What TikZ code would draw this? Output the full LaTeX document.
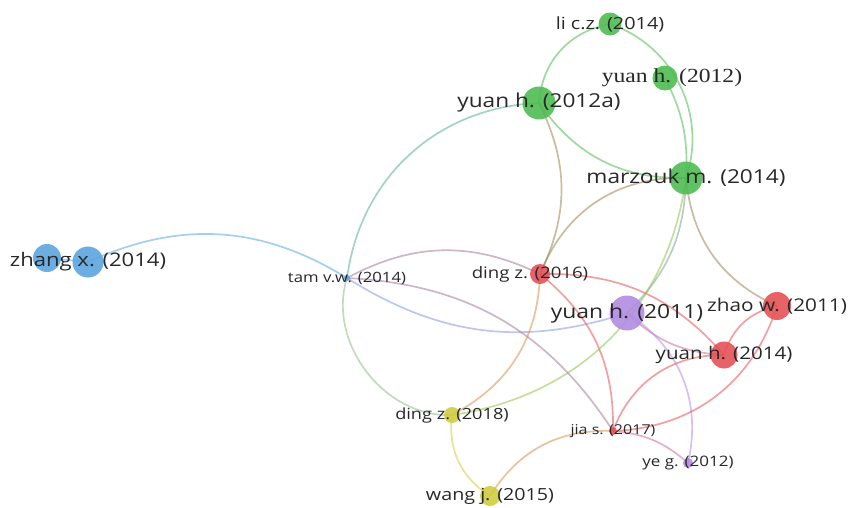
\documentclass[tikz,border=0pt]{standalone}
\usepackage{fontspec}
\setmainfont{Open Sans}
\newfontfamily\serifname{Liberation Serif}
\usepackage{graphicx}
\definecolor{vgreen}{RGB}{78,188,82}
\definecolor{vblue}{RGB}{92,165,222}
\definecolor{vred}{RGB}{230,82,86}
\definecolor{vpurple}{RGB}{178,140,226}
\definecolor{vyellow}{RGB}{208,204,64}
\definecolor{labelgray}{RGB}{40,40,40}
\pgfdeclarelayer{edges}
\pgfsetlayers{edges,main}
\newcommand{\wide}[1]{\scalebox{1.18}[1]{#1}}

\begin{document}
\begin{tikzpicture}[x=1pt, y=-1pt]
    \tikzset{item/.style = {circle, inner sep=0pt, fill=#1, opacity=.9}}
    \tikzset{lbl/.style = {text=labelgray, inner sep=0pt, font=\fontsize{#1}{#1}\selectfont}}
    \tikzset{link/.style = {#1, line width=1.7pt, opacity=.55}}
    \useasboundingbox (0,0) rectangle (852,507);
    % publications
    \node[item=vblue, minimum size=28] (zhang14a) at (47,258) {};
    \node[item=vblue, minimum size=31] (zhang14) at (88,262) {};
    \node[item=vblue, minimum size=6] (tam14) at (347,278) {};
    \node[item=vgreen, minimum size=33] (yuan12a) at (539,103) {};
    \node[item=vgreen, minimum size=23] (li14) at (610,24) {};
    \node[item=vgreen, minimum size=25] (yuan12) at (665,78) {};
    \node[item=vgreen, minimum size=33] (marzouk14) at (686,178) {};
    \node[item=vred, minimum size=20] (ding16) at (540,274) {};
    \node[item=vpurple, minimum size=35] (yuan11) at (627,313) {};
    \node[item=vred, minimum size=28] (zhao11) at (777,306) {};
    \node[item=vred, minimum size=27] (yuan14) at (724,355) {};
    \node[item=vyellow, minimum size=16] (ding18) at (452,415) {};
    \node[item=vred, minimum size=8] (jia17) at (613,431) {};
    \node[item=vpurple, minimum size=10] (ye12) at (688,463) {};
    \node[item=vyellow, minimum size=20] (wang15) at (490,496) {};
    % labels
    \node[lbl=18.7] (zhang14-l) at (zhang14) {\wide{zhang x. (2014)}};
    \node[lbl=14.2] (tam14-l) at (tam14) {\wide{tam v.w. (2014)}};
    \node[lbl=19.2] (yuan12a-l) at (yuan12a) {\wide{yuan h. (2012a)}};
    \node[lbl=16.8] (li14-l) at (li14) {\wide{li c.z. (2014)}};
    \node[lbl=20, font=\serifname\fontsize{20}{20}\selectfont] (yuan12-l) at ([xshift=7]yuan12) {\wide{yuan h. (2012)}};
    \node[lbl=19.2] (marzouk14-l) at (marzouk14) {\wide{marzouk m. (2014)}};
    \node[lbl=15.8] (ding16-l) at ([xshift=-10]ding16) {\wide{ding z. (2016)}};
    \node[lbl=19.4] (yuan11-l) at (yuan11) {\wide{yuan h. (2011)}};
    \node[lbl=17.6] (zhao11-l) at (zhao11) {\wide{zhao w. (2011)}};
    \node[lbl=17.4] (yuan14-l) at (yuan14) {\wide{yuan h. (2014)}};
    \node[lbl=15.4] (ding18-l) at (ding18) {\wide{ding z. (2018)}};
    \node[lbl=13.6] (jia17-l) at (jia17) {\wide{jia s. (2017)}};
    \node[lbl=14.4] (ye12-l) at (ye12) {\wide{ye g. (2012)}};
    \node[lbl=16.7] (wang15-l) at (wang15) {\wide{wang j. (2015)}};
    % citation links
    \begin{pgfonlayer}{edges}
        \draw[link=vblue] (zhang14a.center) -- (zhang14.center);
        \draw[link=vblue] (zhang14.center) to[bend left=28] (tam14.center);
        \draw[link=vblue!50!vgreen] (tam14.center) to[bend left=40] (yuan12a.center);
        \draw[link=vblue!50!vyellow] (tam14.center) to[bend right=55] (ding18.center);
        \draw[link=vblue!50!vpurple] (tam14.center) to[bend right=25] (yuan11.center);
        \draw[link=vblue!50!vred] (tam14.center) to[bend left=27] (ding16.center);
        \draw[link=vblue!50!vred] (tam14.center) to[bend left=27] (jia17.center);
        \draw[link=vgreen] (yuan12a.center) to[bend left=38] (li14.center);
        \draw[link=vgreen] (li14.center) to[bend left=45] (marzouk14.center);
        \draw[link=vgreen] (yuan12.center) to[bend left=15] (marzouk14.center);
        \draw[link=vgreen] (yuan12a.center) to[bend right=28] (marzouk14.center);
        \draw[link=vgreen!50!vred] (yuan12a.center) to[bend left=26] (ding16.center);
        \draw[link=vgreen!50!vred] (marzouk14.center) to[bend right=35] (ding16.center);
        \draw[link=vred!50!vyellow] (ding16.center) to[bend left=30] (ding18.center);
        \draw[link=vred] (ding16.center) to[bend left=26] (jia17.center);
        \draw[link=vred] (ding16.center) to[bend left=25] (yuan14.center);
        \draw[link=vgreen!50!vpurple] (marzouk14.center) to[bend left=22] (yuan11.center);
        \draw[link=vgreen!50!vyellow] (marzouk14.center) to[bend left=37] (ding18.center);
        \draw[link=vgreen!50!vred] (marzouk14.center) to[bend right=30] (zhao11.center);
        \draw[link=vpurple!50!vred] (yuan11.center) to[bend right=20] (yuan14.center);
        \draw[link=vpurple] (yuan11.center) to[bend left=35] (ye12.center);
        \draw[link=vred] (zhao11.center) to[bend right=30] (yuan14.center);
        \draw[link=vred] (zhao11.center) to[bend left=35] (jia17.center);
        \draw[link=vred] (yuan14.center) to[bend right=35] (jia17.center);
        \draw[link=vred!50!vpurple] (jia17.center) to[bend left=18] (ye12.center);
        \draw[link=vred!50!vyellow] (jia17.center) to[bend right=30] (wang15.center);
        \draw[link=vyellow] (ding18.center) to[bend right=32] (wang15.center);
    \end{pgfonlayer}
\end{tikzpicture}
\end{document}
